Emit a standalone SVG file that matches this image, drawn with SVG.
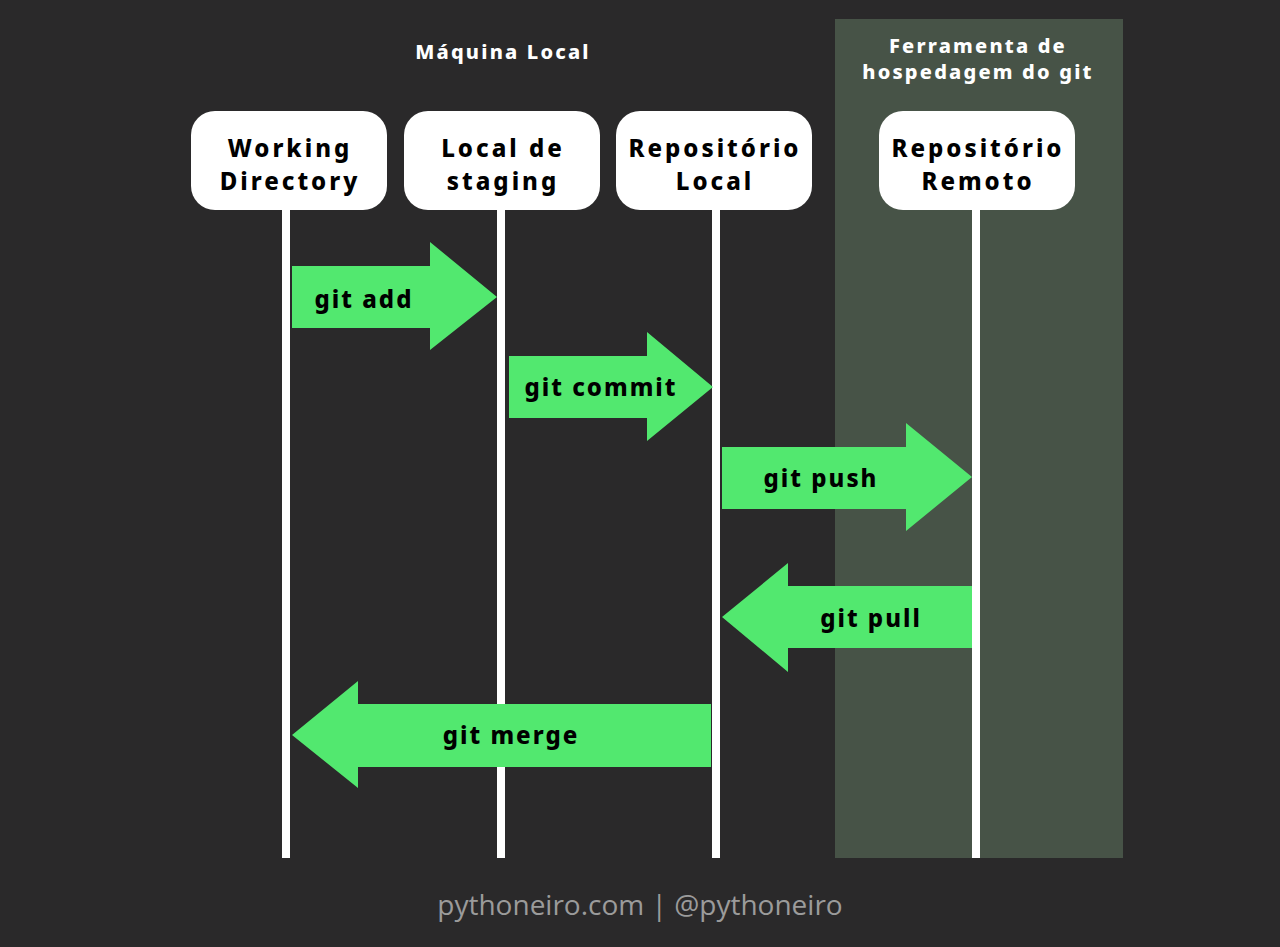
<svg xmlns="http://www.w3.org/2000/svg" width="1280" height="947" viewBox="0 0 1280 947">
<style>
.node rect{fill:#ffffff}
.nt{font-family:"Noto Sans",sans-serif;font-weight:800;font-size:24px;letter-spacing:3px;fill:#000;text-anchor:middle}
.life{fill:#ffffff}
.arrow{fill:#52e86f}
.al{font-family:"Noto Sans",sans-serif;font-weight:800;font-size:24px;letter-spacing:2px;fill:#000;text-anchor:middle;dominant-baseline:central}
.hdr{font-family:"Noto Sans",sans-serif;font-weight:800;font-size:20px;letter-spacing:2.2px;fill:#fff;text-anchor:middle}
</style>
<rect width="1280" height="947" fill="#2a292a"/>
<rect id="remote-panel" x="835" y="19" width="288" height="839" fill="#475347"/>
<text class="hdr" x="503" y="59">Máquina Local</text>
<text class="hdr" x="978" y="53">Ferramenta de</text>
<text class="hdr" x="978" y="79">hospedagem do git</text>
<g id="lifelines">
<rect class="life" x="282" y="205" width="8" height="653"/>
<rect class="life" x="497" y="205" width="8" height="653"/>
<rect class="life" x="712" y="205" width="8" height="653"/>
<rect class="life" x="972" y="205" width="8" height="653"/>
</g>
<g id="n-working" class="node"><rect x="191" y="111" width="196" height="99" rx="24"/><text class="nt" x="290" y="157">Working</text><text class="nt" x="290" y="190">Directory</text></g>
<g id="n-staging" class="node"><rect x="404" y="111" width="196" height="99" rx="24"/><text class="nt" x="503" y="157">Local de</text><text class="nt" x="503" y="190">staging</text></g>
<g id="n-local" class="node"><rect x="616" y="111" width="196" height="99" rx="24"/><text class="nt" x="715" y="157">Repositório</text><text class="nt" x="715" y="190">Local</text></g>
<g id="n-remote" class="node"><rect x="879" y="111" width="196" height="99" rx="24"/><text class="nt" x="978" y="157">Repositório</text><text class="nt" x="978" y="190">Remoto</text></g>
<g id="connectors">
<g id="c-add"><polygon class="arrow" points="292,266 430,266 430,242 497,297 430,350 430,328 292,328"/><text class="al" x="364" y="298">git add</text></g>
<g id="c-commit"><polygon class="arrow" points="509,356 647,356 647,332 713,387 647,441 647,418 509,418"/><text class="al" x="601" y="386">git commit</text></g>
<g id="c-push"><polygon class="arrow" points="722,447 906,447 906,423 972,477 906,531 906,509 722,509"/><text class="al" x="821" y="477">git push</text></g>
<g id="c-pull"><polygon class="arrow" points="972,586 788,586 788,563 722,617 788,672 788,648 972,648"/><text class="al" x="871" y="617">git pull</text></g>
<g id="c-merge"><polygon class="arrow" points="711,704 358,704 358,681 292,735 358,788 358,767 711,767"/><text class="al" x="511" y="734">git merge</text></g>
</g>
<text x="640" y="915" font-family="'Open Sans',sans-serif" font-size="28" fill="#9b9b9b" text-anchor="middle">pythoneiro.com | @pythoneiro</text>
</svg>
